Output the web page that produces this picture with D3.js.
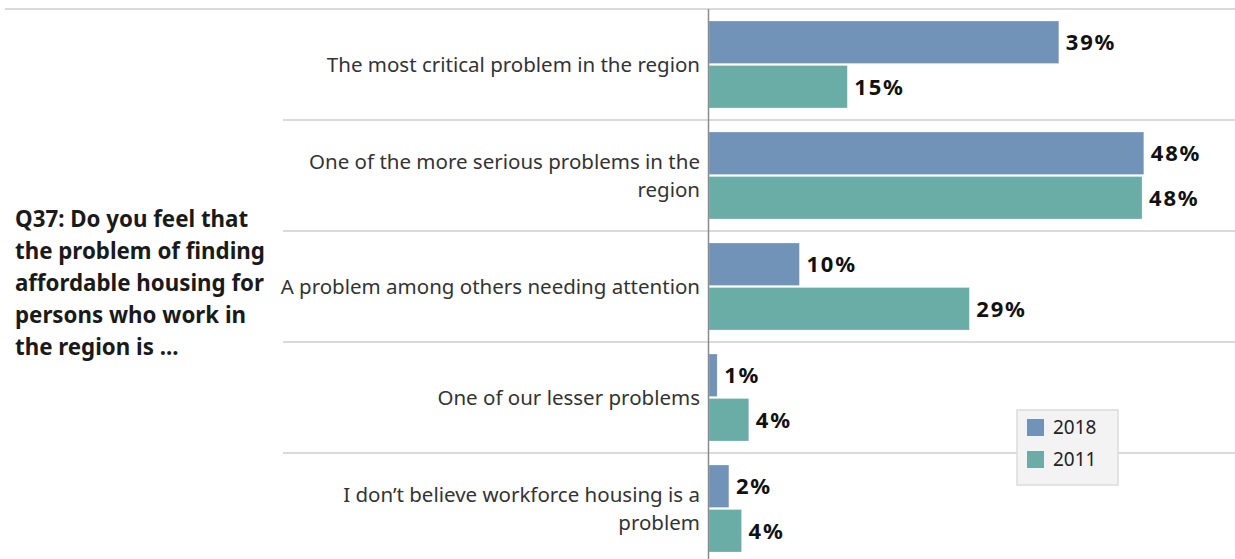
<!DOCTYPE html>
<html>
<head>
<meta charset="utf-8">
<script src="https://cdn.jsdelivr.net/npm/d3@7"></script>
<style>
  body { margin: 0; background: #fff; }
  svg { display: block; font-family: "Noto Sans", "Open Sans", sans-serif; }
</style>
</head>
<body>
<div id="chart"></div>
<script>
const categories = [
  "The most critical problem in the region",
  "One of the more serious problems in the region",
  "A problem among others needing attention",
  "One of our lesser problems",
  "I don\u2019t believe workforce housing is a problem"
];
const years = ["2018", "2011"];
const values2018 = [0.387, 0.481, 0.100, 0.009, 0.022];
const values2011 = [0.153, 0.479, 0.288, 0.044, 0.036];
const questionLines = [
  "Q37: Do you feel that",
  "the problem of finding",
  "affordable housing for",
  "persons who work in",
  "the region is ..."
];

const width = 1235, height = 559;
const colors = { "2018": "#7193b8", "2011": "#6aaca6" };

const svg = d3.select("#chart").append("svg")
  .attr("width", width)
  .attr("height", height);

const rows = categories.map((c, i) => ({
  cat: c,
  bars: [
    { year: "2018", value: values2018[i] },
    { year: "2011", value: values2011[i] }
  ]
}));

const x = d3.scaleLinear().domain([0, 0.5]).range([709, 709 + 452]);
const y = d3.scaleBand().domain(categories).range([9, 9 + 111 * 5]);
const yInner = d3.scaleBand().domain(years).range([12, 99]).paddingInner(0.045);
const fmt = d3.format(".0%");

// top rule + row separators
svg.append("line")
  .attr("x1", 5).attr("x2", width)
  .attr("y1", 9).attr("y2", 9)
  .attr("stroke", "#dadada").attr("stroke-width", 2);

svg.append("g").selectAll("line")
  .data(categories.slice(1))
  .join("line")
  .attr("x1", 283).attr("x2", width)
  .attr("y1", d => y(d)).attr("y2", d => y(d))
  .attr("stroke", "#dadada").attr("stroke-width", 2);

// question text on the left
svg.append("text")
  .attr("font-size", 22.3)
  .attr("font-weight", "bold")
  .attr("fill", "#1a1a1a")
  .selectAll("tspan")
  .data(questionLines)
  .join("tspan")
  .attr("x", 15)
  .attr("y", (d, i) => 227 + i * 32)
  .text(d => d);

// category labels, wrapped
function wrapWords(text, maxW, size) {
  const tmp = svg.append("text").attr("font-size", size);
  const words = text.split(" ");
  const lines = [];
  let line = [];
  words.forEach(w => {
    line.push(w);
    tmp.text(line.join(" "));
    if (tmp.node().getComputedTextLength() > maxW && line.length > 1) {
      line.pop();
      lines.push(line.join(" "));
      line = [w];
    }
  });
  lines.push(line.join(" "));
  tmp.remove();
  return lines;
}

const labelSize = 20.5;
const labelG = svg.append("g");
rows.forEach(r => {
  const lines = wrapWords(r.cat, 425, labelSize);
  const mid = y(r.cat) + y.bandwidth() / 2;
  const lh = 28;
  labelG.append("text")
    .attr("text-anchor", "end")
    .attr("font-size", labelSize)
    .attr("fill", "#333")
    .selectAll("tspan")
    .data(lines)
    .join("tspan")
    .attr("x", 700)
    .attr("y", (d, i) => mid + (i - (lines.length - 1) / 2) * lh)
    .attr("dy", "0.35em")
    .text(d => d);
});

// bars
const rowG = svg.append("g").selectAll("g")
  .data(rows)
  .join("g")
  .attr("transform", d => `translate(0,${y(d.cat)})`);

rowG.selectAll("rect")
  .data(d => d.bars)
  .join("rect")
  .attr("x", x(0))
  .attr("y", d => yInner(d.year))
  .attr("width", d => x(d.value) - x(0))
  .attr("height", yInner.bandwidth())
  .attr("fill", d => colors[d.year])
  .attr("stroke", "#ffffff")
  .attr("stroke-opacity", 0.5)
  .attr("stroke-width", 0.5);

rowG.selectAll("text")
  .data(d => d.bars)
  .join("text")
  .attr("x", d => x(d.value) + 7)
  .attr("y", d => yInner(d.year) + yInner.bandwidth() / 2)
  .attr("dy", "0.36em")
  .attr("font-size", 22)
  .attr("letter-spacing", 1.8)
  .attr("font-weight", "bold")
  .attr("fill", "#111")
  .text(d => fmt(d.value));

// axis line
svg.append("line")
  .attr("x1", 708.5).attr("x2", 708.5)
  .attr("y1", 9).attr("y2", height)
  .attr("stroke", "#8a8a8a").attr("stroke-width", 1.5);

// legend
const legend = svg.append("g").attr("transform", "translate(1017,410)");
legend.append("rect")
  .attr("width", 101).attr("height", 75)
  .attr("fill", "#f3f3f3")
  .attr("stroke", "#dcdcdc").attr("stroke-width", 1.5);
const li = legend.selectAll("g.item")
  .data(years)
  .join("g")
  .attr("class", "item")
  .attr("transform", (d, i) => `translate(10,${9 + i * 32})`);
li.append("rect")
  .attr("width", 17).attr("height", 17)
  .attr("fill", d => colors[d]);
li.append("text")
  .attr("x", 26).attr("y", 8.5)
  .attr("dy", "0.36em")
  .attr("font-size", 19)
  .attr("fill", "#222")
  .text(d => d);
</script>
</body>
</html>
